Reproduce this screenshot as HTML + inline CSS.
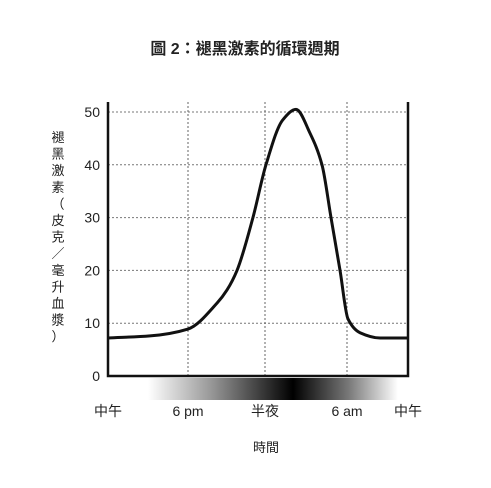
<!DOCTYPE html>
<html><head><meta charset="utf-8"><style>
body{margin:0;background:#fff;width:491px;height:488px;overflow:hidden}
svg{display:block}
text{font-family:"Liberation Sans","Noto Sans CJK TC",sans-serif;fill:#222}
</style></head><body>
<svg id="chart" width="491" height="488" viewBox="0 0 491 488">
<defs>
<linearGradient id="night" x1="0" x2="1" y1="0" y2="0">
<stop offset="0" stop-color="#fff"/>
<stop offset="0.25" stop-color="#999"/>
<stop offset="0.58" stop-color="#000"/>
<stop offset="0.8" stop-color="#777"/>
<stop offset="1" stop-color="#fff"/>
</linearGradient>
</defs>
<text x="245" y="54" text-anchor="middle" font-size="16" font-weight="bold" fill="#111">圖 2：褪黑激素的循環週期</text>
<rect x="148" y="378" width="250" height="22" fill="url(#night)"/>
<g id="grid"></g>
<g id="axes"></g>
<path id="curve" fill="none" stroke="#111" stroke-width="3"/>
<g id="ytitle"></g>
<text x="266" y="452" text-anchor="middle" font-size="13">時間</text>
</svg>
<script>
const yTicks=[0,10,20,30,40,50];
const xTickHours=[0,6,12,18,24];
const xTickLabels=["中午","6 pm","半夜","6 am","中午"];
const hours=[0,3.15,6,8.26,9.04,9.82,11.06,12.07,13.3,14.27,15.29,16.17,16.83,17.49,18.1,19.28,21.25,24];
const values=[7.2,7.6,8.9,13.8,16.3,20,30,40,48.5,50.5,46,40,30,20,10.8,8.2,7.2,7.2];
const L=108,R=408,B=376,T=102;
const xPix=[108,188,265,347,408];
function xs(h){for(let i=0;i<xTickHours.length-1;i++){const a=xTickHours[i],b=xTickHours[i+1];if(h<=b||i==xTickHours.length-2)return xPix[i]+(h-a)/(b-a)*(xPix[i+1]-xPix[i]);}}
function ys(v){return B-v*5.28;}
const NS="http://www.w3.org/2000/svg";
const grid=document.getElementById('grid'),axes=document.getElementById('axes');
function mk(tag,attrs,parent){const e=document.createElementNS(NS,tag);for(const k in attrs)e.setAttribute(k,attrs[k]);parent.appendChild(e);return e;}
yTicks.forEach(v=>{
 if(v>0){const g=mk('line',{x1:L,x2:R,y1:ys(v),y2:ys(v),stroke:'#777','stroke-width':1,'stroke-dasharray':'2,2'},grid);
 
 }
 const t=mk('text',{x:100,y:ys(v)+5,'text-anchor':'end','font-size':14},axes);t.textContent=v;
 
 
});
xTickHours.forEach((h,i)=>{
 if(i>0&&i<xTickHours.length-1){const g=mk('line',{x1:xs(h),x2:xs(h),y1:T,y2:B,stroke:'#666','stroke-width':1,'stroke-dasharray':'2,2'},grid);
 
 }
 const t=mk('text',{x:xs(h),y:416,'text-anchor':'middle','font-size':14},axes);t.textContent=xTickLabels[i];
 
 
});
const ax=mk('path',{d:`M${L},${T} V${B} H${R} V${T}`,fill:'none',stroke:'#111','stroke-width':2.5},axes);


const yt=document.getElementById('ytitle');
"褪黑激素（皮克／毫升血漿）".split('').forEach((c,i)=>{
 const t=mk('text',{x:58,y:142+i*16.6,'text-anchor':'middle','font-size':13},yt);t.textContent=c;
});
const P=hours.map((h,i)=>[xs(h),ys(values[i])]);
const n=P.length,dx=[],sl=[],m=[];
for(let i=0;i<n-1;i++){dx[i]=P[i+1][0]-P[i][0];sl[i]=(P[i+1][1]-P[i][1])/dx[i];}
m[0]=sl[0];m[n-1]=sl[n-2];
for(let i=1;i<n-1;i++){if(sl[i-1]*sl[i]<=0)m[i]=0;else{const w1=2*dx[i]+dx[i-1],w2=dx[i]+2*dx[i-1];m[i]=(w1+w2)/(w1/sl[i-1]+w2/sl[i]);}}
let d=`M${P[0][0]},${P[0][1]}`;
for(let i=0;i<n-1;i++){const h=dx[i]/3;
 d+=` C${P[i][0]+h},${P[i][1]+m[i]*h} ${P[i+1][0]-h},${P[i+1][1]-m[i+1]*h} ${P[i+1][0]},${P[i+1][1]}`;}
document.getElementById('curve').setAttribute('d',d);
</script>
</body></html>
